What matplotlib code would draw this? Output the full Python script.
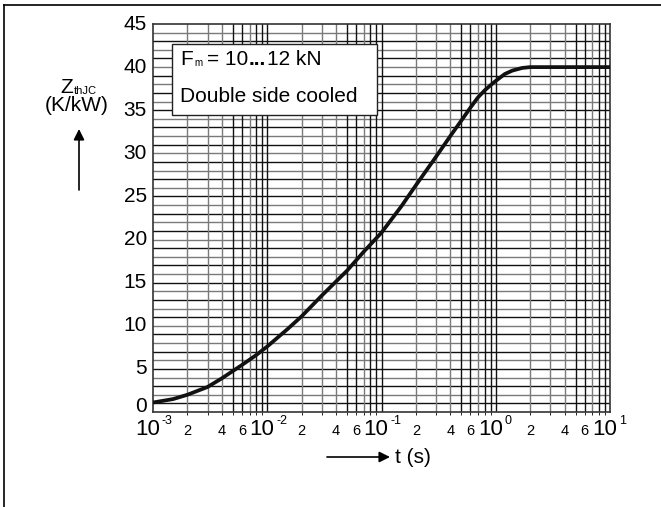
import matplotlib
matplotlib.use('Agg')
import matplotlib.pyplot as plt
from matplotlib.lines import Line2D
from matplotlib.patches import Rectangle
from matplotlib.transforms import offset_copy

plt.rcParams['font.family'] = ['Liberation Sans', 'DejaVu Sans']

# Z_thJC curve
t_s = [1e-3, 1.5e-3, 2e-3, 3e-3, 4e-3, 6e-3, 8e-3, 1e-2, 1.5e-2, 2e-2, 3e-2,
       5e-2, 7e-2, 0.1, 0.15, 0.2, 0.3, 0.4, 0.5, 0.6, 0.7, 0.8, 0.9, 1.0,
       1.2, 1.4, 1.7, 2.0, 10.0]
z_kw = [1.1, 1.5, 2.0, 2.9, 3.9, 5.45, 6.6, 7.6, 9.6, 11.1, 13.5,
        16.4, 18.6, 20.8, 23.9, 26.3, 29.6, 32.0, 33.8, 35.3, 36.5, 37.3, 37.9, 38.4,
        39.2, 39.6, 39.9, 40.0, 40.0]

y_ticks = [0, 5, 10, 15, 20, 25, 30, 35, 40, 45]
decades = [1e-3, 1e-2, 1e-1, 1e0, 1e1]
decade_exp = ['-3', '-2', '-1', '0', '1']
minor_marks = [2, 4, 6]

W, H = 661, 507
fig = plt.figure(figsize=(W / 100, H / 100), dpi=100)
ax = fig.add_axes([153 / W, 1 - 412 / H, (610 - 153) / W, (412 - 24) / H])

ax.set_xscale('log')
ax.set_xlim(1e-3, 10)
ax.set_ylim(0, 45)

# grid: every unit in y, every 1..9 in x (scanned look: mixed black / grey)
for v in range(1, 45):
    ax.axhline(v, color='#111111' if v % 2 else '#7a7a7a', lw=1.0, zorder=1)
for d in decades[:-1]:
    for m in range(1, 10):
        if m == 1 and d == 1e-3:
            continue
        c = '#7a7a7a' if m in (2, 3, 4, 7) else '#111111'
        ax.axvline(d * m, color=c, lw=1.0, zorder=1)

ax.plot(t_s, z_kw, color='#111111', lw=2.7, solid_joinstyle='round',
        solid_capstyle='butt', zorder=4)

for s in ax.spines.values():
    s.set_color('#333333')
    s.set_linewidth(1.2)

ax.set_xticks([])
ax.set_yticks([])

# y labels, the 0 sits a little higher so it clears the 10^-3
yt = ax.get_yaxis_transform()
for v in y_ticks:
    dy = 5 if v == 0 else 0
    ax.text(0, v, str(v), transform=offset_copy(yt, fig=fig, x=-6, y=dy, units='dots'),
            fontsize=15, ha='right', va='center', clip_on=False)

# x labels: 10 with small exponent, plus 2 4 6 inside each decade
xt = ax.get_xaxis_transform()
for d, e in zip(decades, decade_exp):
    ax.text(d, 0, '10', transform=offset_copy(xt, fig=fig, x=7, y=-23, units='dots'),
            fontsize=16, ha='right', va='baseline', clip_on=False)
    ax.text(d, 0, e, transform=offset_copy(xt, fig=fig, x=9, y=-12, units='dots'),
            fontsize=9, ha='left', va='baseline', clip_on=False)
for d in decades[:-1]:
    for m in minor_marks:
        ax.text(d * m, 0, str(m), transform=offset_copy(xt, fig=fig, x=0, y=-23, units='dots'),
                fontsize=10.5, ha='center', va='baseline', clip_on=False)

renderer = fig.canvas.get_renderer()


def chain(x, y, s, size, weight='normal'):
    # place text by pixel x and baseline y, return its right edge in pixels
    t = fig.text(x / W, 1 - y / H, s, fontsize=size, fontweight=weight,
                 ha='left', va='baseline', zorder=6)
    return t.get_window_extent(renderer).x1


# legend-like box
tf = fig.transFigure
ax.add_patch(Rectangle((172 / W, 1 - 115 / H), (377 - 172) / W, (115 - 44) / H,
                       transform=tf, facecolor='white', edgecolor='#222222', lw=1.0,
                       zorder=5, clip_on=False))
x = chain(180, 65, 'F', 15)
x = chain(x + 2, 66, 'm', 7)
x = chain(x + 4, 65, '= 10', 15)
x = chain(x + 1, 65, '...', 15, weight='bold')
x = chain(x + 1, 65, '12 kN', 15)
chain(180, 102.5, 'Double side cooled', 15)

# y axis title with upward arrow
x = chain(60, 93, 'Z', 15)
chain(x + 1, 94, 'thJC', 8)
fig.text(77 / W, 1 - 111 / H, '(K/kW)', fontsize=15, ha='center', va='baseline')
ax.annotate('', xy=(79 / W, 1 - 129 / H), xytext=(79 / W, 1 - 190 / H),
            xycoords=tf, textcoords=tf,
            arrowprops=dict(arrowstyle='-|>', color='black', lw=1.2,
                            mutation_scale=16, shrinkA=0, shrinkB=0))

# x axis title with arrow
ax.annotate('', xy=(390 / W, 1 - 457 / H), xytext=(327 / W, 1 - 457 / H),
            xycoords=tf, textcoords=tf,
            arrowprops=dict(arrowstyle='-|>', color='black', lw=1.2,
                            mutation_scale=16, shrinkA=0, shrinkB=0))
fig.text(395 / W, 1 - 463 / H, 't (s)', fontsize=15, ha='left', va='baseline')

# outer frame (top and left only)
fig.add_artist(Line2D([4 / W, 1], [1 - 5 / H, 1 - 5 / H], color='black', lw=1.2))
fig.add_artist(Line2D([4 / W, 4 / W], [1 - 5 / H, 0], color='black', lw=1.2))

fig.savefig('out.png', dpi=100)
